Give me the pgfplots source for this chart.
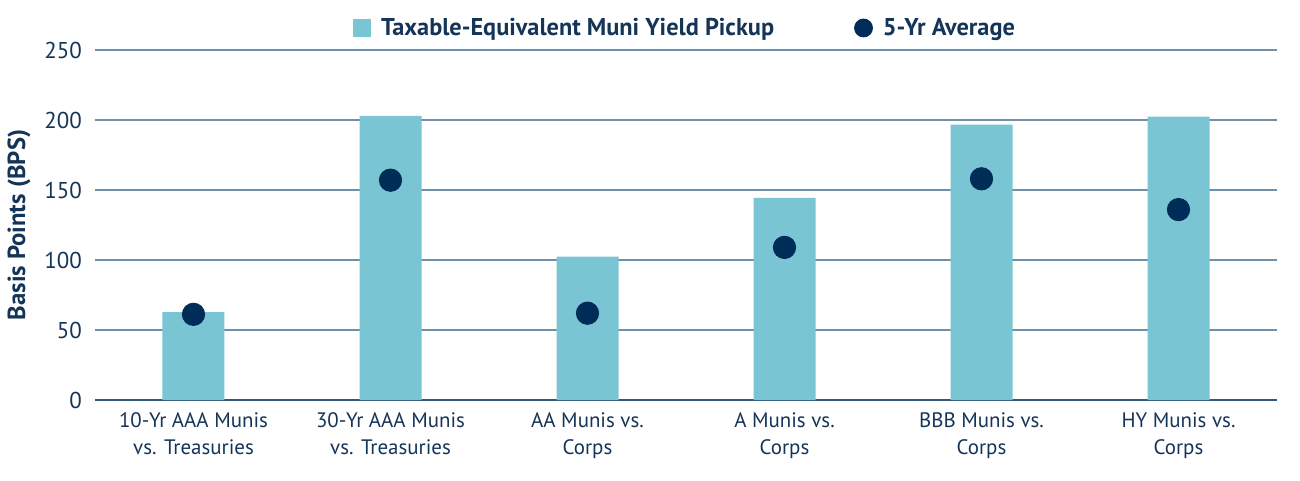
\documentclass[border=0pt]{standalone}
\usepackage{pgfplots}
\pgfplotsset{compat=1.18}
\usepackage{fontspec}
\setmainfont{PT Sans}
\definecolor{barcol}{RGB}{121,197,212}
\definecolor{dotcol}{RGB}{0,45,88}
\definecolor{gridcol}{RGB}{112,143,168}
\definecolor{axcol}{RGB}{50,88,122}
\definecolor{txtcol}{RGB}{20,52,88}
\begin{document}
\begin{tikzpicture}
\begin{axis}[
  scale only axis,
  width=591bp, height=175bp,
  xmin=-0.5, xmax=5.5, ymin=0, ymax=250,
  axis x line*=bottom,
  axis y line*=left,
  x axis line style={draw=axcol, line width=1.2bp, -},
  y axis line style={draw=none},
  ytick={0,50,100,150,200,250},
  ymajorgrids,
  grid style={draw=gridcol, line width=0.7bp},
  major tick length=0pt,
  xtick={0,1,2,3,4,5},
  xticklabels={{10-Yr AAA Munis\\vs. Treasuries},{30-Yr AAA Munis\\vs. Treasuries},{AA Munis vs.\\Corps},{A Munis vs.\\Corps},{BBB Munis vs.\\Corps},{HY Munis vs.\\Corps}},
  xticklabel style={align=center, font=\fontsize{10.5}{13.5}\selectfont, text=txtcol, yshift=-3bp},
  yticklabel style={font=\fontsize{11.5}{14}\selectfont, text=txtcol, xshift=-3bp},
  /pgf/number format/assume math mode=true,
  ylabel={\bfseries Basis Points (BPS)},
  ylabel style={font=\fontsize{12.4}{14}\selectfont, text=txtcol,
    at={(axis description cs:-0.0643,0.5)}, anchor=center},
  legend columns=2,
  legend style={draw=none, fill=none, at={(0.5,1)}, anchor=center, yshift=11bp,
    font=\bfseries\fontsize{12.2}{14}\selectfont, text=txtcol,
    /tikz/every even column/.append style={column sep=38bp},
    /tikz/every odd column/.append style={column sep=3bp}},
  clip=false,
]
\addplot[ybar, bar width=31bp, fill=barcol, draw=none,
  legend image code/.code={\fill[barcol] (0bp,-4.5bp) rectangle (9bp,4.5bp);}]
  coordinates {(0,62.8) (1,203) (2,102.4) (3,144.3) (4,196.7) (5,202.4)};
\addlegendentry{Taxable-Equivalent Muni Yield Pickup}
\addplot[only marks, mark=*, mark size=5.6bp, color=dotcol, mark options={fill=dotcol, draw=dotcol},
  legend image code/.code={\fill[dotcol] (4.5bp,0) circle (4.5bp);}]
  coordinates {(0,61.2) (1,157) (2,62) (3,109) (4,158) (5,136)};
\addlegendentry{5-Yr Average}
\end{axis}
\pgfresetboundingbox
\path ([xshift=-47.5bp,yshift=-40.5bp]current axis.south west) rectangle ([xshift=11.5bp,yshift=25bp]current axis.north east);
\end{tikzpicture}
\end{document}
